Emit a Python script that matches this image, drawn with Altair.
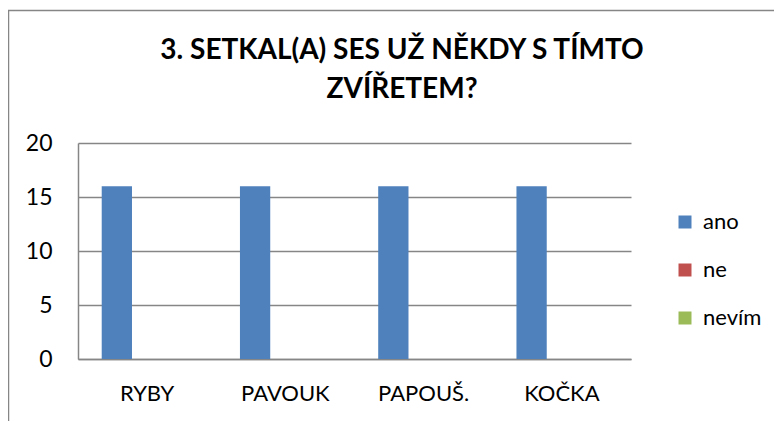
import altair as alt
import pandas as pd

categories = ["RYBY", "PAVOUK", "PAPOUŠ.", "KOČKA"]
series = ["ano", "ne", "nevím"]
ano = [16, 16, 16, 16]
ne = [0, 0, 0, 0]
nevim = [0, 0, 0, 0]
colors = ["#4F81BD", "#C0504D", "#9BBB59"]
title_lines = ["3. SETKAL(A) SES UŽ NĚKDY S TÍMTO", "ZVÍŘETEM?"]

rows = []
for i, c in enumerate(categories):
    for s, vals in zip(series, [ano, ne, nevim]):
        rows.append({"kategorie": c, "odpověď": s, "počet": vals[i]})
df = pd.DataFrame(rows)

FONT = "Lato"
GRAY = "#868686"

one = pd.DataFrame({"f": [0]})

frame = alt.Chart(one).mark_rect(
    fill=None, stroke=GRAY, strokeWidth=1.5, clip=False
).encode(
    x=alt.value(-69.5), x2=alt.value(800),
    y=alt.value(-132.5), y2=alt.value(400)
)

title = alt.Chart(one).mark_text(
    text=title_lines, font=FONT, fontSize=28, fontWeight="bold", color="#000000",
    align="center", baseline="alphabetic", lineHeight=39, clip=False
).encode(x=alt.value(324), y=alt.value(-84))

bars = alt.Chart(df).mark_bar().encode(
    x=alt.X("kategorie:N", sort=categories,
            scale=alt.Scale(paddingInner=0.343, paddingOuter=0.1715),
            axis=alt.Axis(title=None, labelAngle=0, ticks=False,
                          domainColor=GRAY, domainWidth=1.5,
                          labelFont=FONT, labelFontSize=22, labelColor="#000000",
                          labelPadding=24)),
    xOffset=alt.XOffset("odpověď:N", sort=series, scale=alt.Scale(paddingInner=0, paddingOuter=0)),
    y=alt.Y("počet:Q", scale=alt.Scale(domain=[0, 20]),
            axis=alt.Axis(title=None, values=[0, 5, 10, 15, 20], ticks=False,
                          domainColor=GRAY, domainWidth=1.5,
                          gridColor=GRAY, gridWidth=1.5,
                          labelFont=FONT, labelFontSize=23, labelColor="#000000",
                          labelPadding=26)),
    color=alt.Color("odpověď:N", sort=series,
                    scale=alt.Scale(domain=series, range=colors),
                    legend=alt.Legend(title=None, orient="none", legendX=596, legendY=68,
                                      symbolType="square", symbolSize=169,
                                      symbolStrokeWidth=0, padding=0,
                                      labelFont=FONT, labelFontSize=22,
                                      labelColor="#000000", labelOffset=7,
                                      rowPadding=26))
)

chart = alt.layer(frame, bars, title).properties(
    width=553,
    height=216,
    autosize=alt.AutoSizeParams(type="none"),
    padding={"left": 70, "top": 135, "right": 143, "bottom": 62},
).configure_view(stroke=None)

chart.save("out.html", embed_options={"renderer": "svg", "actions": False})
